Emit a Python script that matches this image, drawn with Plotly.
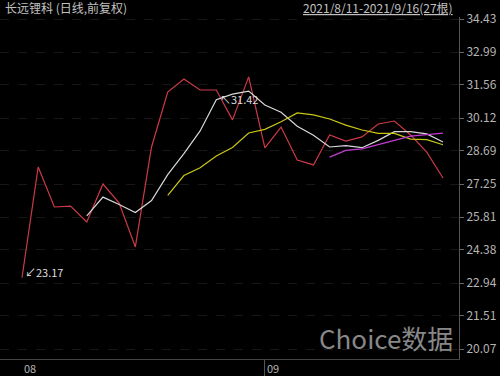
import plotly.graph_objects as go

dates = ["2021-08-11", "2021-08-12", "2021-08-13", "2021-08-16", "2021-08-17", "2021-08-18",
         "2021-08-19", "2021-08-20", "2021-08-23", "2021-08-24", "2021-08-25", "2021-08-26",
         "2021-08-27", "2021-08-30", "2021-08-31", "2021-09-01", "2021-09-02", "2021-09-03",
         "2021-09-06", "2021-09-07", "2021-09-08", "2021-09-09", "2021-09-10", "2021-09-13",
         "2021-09-14", "2021-09-15", "2021-09-16"]
close = [23.17, 27.99, 26.25, 26.29, 25.60, 27.25, 26.42, 24.51, 28.86, 31.25, 31.82, 31.34,
         31.34, 30.04, 31.91, 28.82, 29.73, 28.29, 28.08, 29.38, 29.12, 29.30, 29.86, 29.99,
         29.38, 28.64, 27.51]
ma5 = [None] * 4 + [25.86, 26.68, 26.36, 26.01, 26.53, 27.66, 28.57, 29.56, 30.92, 31.16, 31.29,
                    30.69, 30.37, 29.76, 29.37, 28.86, 28.92, 28.83, 29.15, 29.53, 29.53, 29.43, 29.08]
ma10 = [None] * 9 + [26.76, 27.62, 27.96, 28.47, 28.84, 29.47, 29.63, 29.96, 30.34, 30.26, 30.08,
                     29.81, 29.60, 29.45, 29.45, 29.20, 29.18, 28.96]
ma20 = [None] * 19 + [28.42, 28.71, 28.78, 28.96, 29.15, 29.33, 29.40, 29.46]
y_ticks = [20.07, 21.51, 22.94, 24.38, 25.81, 27.25, 28.69, 30.12, 31.56, 32.99, 34.43]
month_labels = ["08", "09"]
month_index = [0, 15]
title_text = "长远锂科 (日线,前复权)"
range_text = "2021/8/11-2021/9/16(27根)"
min_label = "↙23.17"
max_label = "↖31.42"

x = list(range(len(dates)))
FONT = "Noto Sans CJK SC, Noto Sans, sans-serif"

fig = go.Figure()
fig.add_trace(go.Scatter(x=x, y=close, mode="lines", line=dict(color="#cc3a46", width=1.2)))
fig.add_trace(go.Scatter(x=x, y=ma5, mode="lines", line=dict(color="#d8d8d8", width=1.2)))
fig.add_trace(go.Scatter(x=x, y=ma10, mode="lines", line=dict(color="#c8c814", width=1.2)))
fig.add_trace(go.Scatter(x=x, y=ma20, mode="lines", line=dict(color="#c43cd0", width=1.2)))

fig.update_layout(
    width=500, height=376,
    margin=dict(l=0, r=41, t=17, b=17),
    paper_bgcolor="#000000", plot_bgcolor="#000000",
    showlegend=False,
    font=dict(family=FONT, color="#b4b4b4", size=12),
    xaxis=dict(range=[-1.359, 26.99], showgrid=False, zeroline=False,
               tickvals=[month_index[1]], ticktext=[""], ticks="outside", ticklen=17,
               tickcolor="#555555", showline=True, linecolor="#444444", linewidth=1),
    yaxis=dict(range=[19.635, 34.517], side="right", tickvals=y_ticks,
               ticktext=[f"{v:.2f}" for v in y_ticks], ticks="outside", ticklen=4,
               tickcolor="#666666", showline=True, linecolor="#555555", linewidth=1,
               showgrid=True, gridcolor="#171717", griddash="dash", gridwidth=1,
               zeroline=False, tickfont=dict(size=12, color="#b4b4b4")),
)

annotations = [
    dict(xref="paper", yref="paper", x=0, xshift=3, y=1, yshift=10, yanchor="middle",
         xanchor="left", text=title_text, showarrow=False,
         font=dict(size=12, color="#c0c0c0", family=FONT)),
    dict(xref="paper", yref="paper", x=1, xshift=-4, y=1, yshift=10, yanchor="middle",
         xanchor="right", text=range_text, showarrow=False,
         font=dict(size=12, color="#c0c0c0", family=FONT, lineposition="under")),
    dict(x=0, y=close[0], xanchor="left", yanchor="middle", xshift=1, yshift=6,
         text=min_label, showarrow=False, font=dict(size=11, color="#dddddd", family=FONT)),
    dict(x=12, y=ma5[12], xanchor="left", yanchor="middle", xshift=2, yshift=1,
         text=max_label, showarrow=False, font=dict(size=11, color="#dddddd", family=FONT)),
    dict(xref="paper", yref="paper", x=1, xshift=-4, y=0, yshift=1, xanchor="right",
         yanchor="bottom", text="Choice数据", showarrow=False,
         font=dict(size=26, color="#888888", family=FONT)),
]
for lab, idx in zip(month_labels, month_index):
    annotations.append(dict(x=idx, xref="x", yref="paper", y=0, yshift=-9, xanchor="left",
                            yanchor="middle", xshift=0, text=lab, showarrow=False,
                            font=dict(size=11, color="#b4b4b4", family=FONT)))
fig.update_layout(annotations=annotations)

fig.write_html("out.html", config={"displayModeBar": False})
